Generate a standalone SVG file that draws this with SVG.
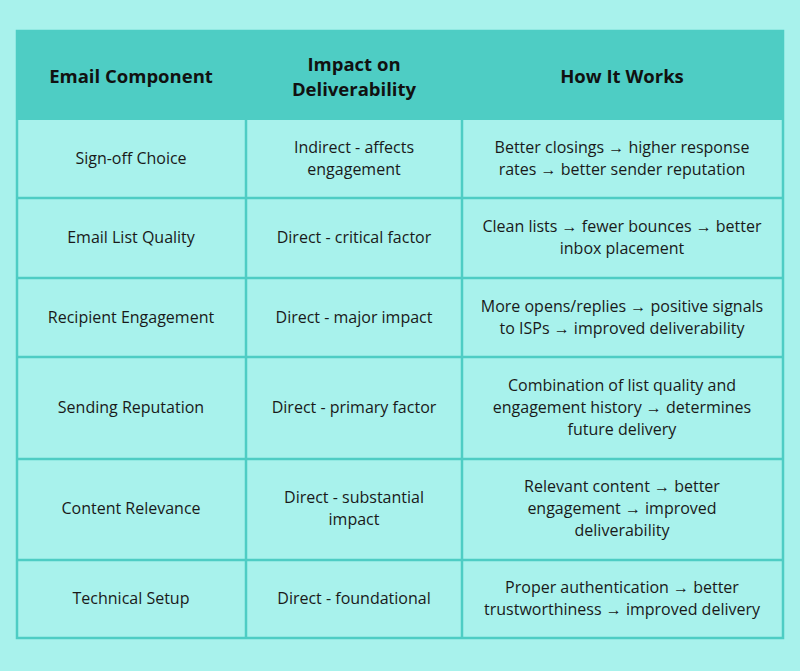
<svg xmlns="http://www.w3.org/2000/svg" width="800" height="671" viewBox="0 0 800 671">
<style>
text{font-family:"Open Sans","Liberation Sans",sans-serif;fill:#1a1a1a;text-anchor:middle}
.h{font-size:18.5px;font-weight:bold;fill:#111}
.c{font-size:16px}
.g{stroke:#4ecdc4;stroke-width:2.5;fill:none}
</style>
<rect width="800" height="671" fill="#a8f2ec"/>
<rect x="17" y="31" width="766" height="89" fill="#4ecdc4"/>
<g id="grid">
<rect class="g" x="17" y="31" width="766" height="607"/>
<path class="g" d="M246 120V638M462 120V638M17 198H783M17 278H783M17 357H783M17 459H783M17 560H783"/>
</g>
<g id="header">
<text class="h" x="131" y="83">Email Component</text>
<text class="h" x="354" y="71">Impact on</text><text class="h" x="354" y="96">Deliverability</text>
<text class="h" x="622" y="83">How It Works</text>
</g>
<g id="row1">
<text class="c" x="131" y="164">Sign-off Choice</text>
<text class="c" x="354" y="153">Indirect - affects</text><text class="c" x="354" y="175">engagement</text>
<text class="c" x="622" y="153">Better closings → higher response</text><text class="c" x="622" y="175">rates → better sender reputation</text>
</g>
<g id="row2">
<text class="c" x="131" y="243">Email List Quality</text>
<text class="c" x="354" y="243">Direct - critical factor</text>
<text class="c" x="622" y="232">Clean lists → fewer bounces → better</text><text class="c" x="622" y="254">inbox placement</text>
</g>
<g id="row3">
<text class="c" x="131" y="323">Recipient Engagement</text>
<text class="c" x="354" y="323">Direct - major impact</text>
<text class="c" x="622" y="312">More opens/replies → positive signals</text><text class="c" x="622" y="334">to ISPs → improved deliverability</text>
</g>
<g id="row4">
<text class="c" x="131" y="413">Sending Reputation</text>
<text class="c" x="354" y="413">Direct - primary factor</text>
<text class="c" x="622" y="391">Combination of list quality and</text><text class="c" x="622" y="413">engagement history → determines</text><text class="c" x="622" y="435">future delivery</text>
</g>
<g id="row5">
<text class="c" x="131" y="514">Content Relevance</text>
<text class="c" x="354" y="503">Direct - substantial</text><text class="c" x="354" y="525">impact</text>
<text class="c" x="622" y="492">Relevant content → better</text><text class="c" x="622" y="514">engagement → improved</text><text class="c" x="622" y="536">deliverability</text>
</g>
<g id="row6">
<text class="c" x="131" y="604">Technical Setup</text>
<text class="c" x="354" y="604">Direct - foundational</text>
<text class="c" x="622" y="593">Proper authentication → better</text><text class="c" x="622" y="615">trustworthiness → improved delivery</text>
</g>
</svg>
